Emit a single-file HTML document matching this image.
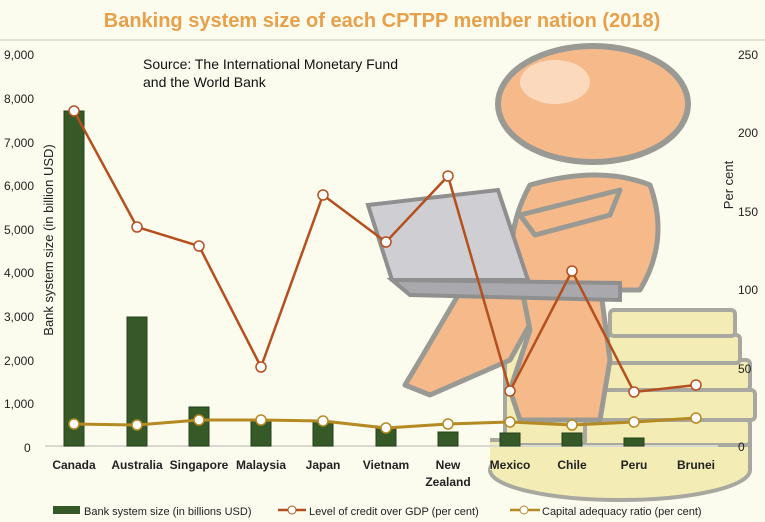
<!DOCTYPE html>
<html><head><meta charset="utf-8"><style>
html,body{margin:0;padding:0;background:#fbfbee;}
svg{display:block;font-family:"Liberation Sans",sans-serif;}
</style></head><body>
<svg width="765" height="522" viewBox="0 0 765 522">
<rect width="765" height="522" fill="#fbfbee"/>
<text x="382" y="27" text-anchor="middle" font-size="20" font-weight="bold" fill="#e8a04a">Banking system size of each CPTPP member nation (2018)</text>
<line x1="0" y1="40" x2="765" y2="40" stroke="#e2e2d6" stroke-width="2"/>

<!-- coins -->
<g stroke="#a8a8a0" stroke-width="4" fill="#f3ecb4">
<ellipse cx="620" cy="470" rx="130" ry="30"/>
<rect x="490" y="440" width="260" height="30" stroke="none"/>
<path d="M490 440 L750 440 L750 470" fill="none"/>
<rect x="580" y="420" width="170" height="25" rx="4"/>
<rect x="580" y="390" width="175" height="30" rx="4"/>
<rect x="580" y="360" width="170" height="30" rx="4"/>
<rect x="600" y="335" width="140" height="28" rx="4"/>
<rect x="610" y="310" width="125" height="26" rx="4"/>
<rect x="505" y="315" width="80" height="130" rx="4"/>
</g>
<!-- legs/body -->
<g fill="#f5b98a" stroke="#9a9a94" stroke-width="5" stroke-linejoin="round">
<path d="M470 275 L560 270 L510 360 L430 395 L405 385 L420 360 Z"/>
<path d="M520 280 L600 285 L610 360 L600 420 L520 420 L510 390 L530 330 Z"/>
<path d="M530 185 Q600 165 650 185 Q670 240 640 290 L520 290 Q500 240 530 185 Z"/>
<path d="M520 215 L620 190 L610 215 L535 235 Z"/>
</g>
<!-- laptop -->
<g stroke="#8f8f8f" stroke-width="4" fill="#cfcfd3">
<polygon points="368,205 498,190 528,280 392,280"/>
<polygon points="392,280 620,283 620,300 410,295" fill="#a9a9ad"/>
</g>
<!-- head -->
<ellipse cx="593" cy="104" rx="95" ry="58" fill="#f5b98a" stroke="#9a9a94" stroke-width="6"/>
<ellipse cx="555" cy="82" rx="35" ry="22" fill="#fbd9bd" stroke="none"/>

<!-- axes -->
<line x1="45" y1="446" x2="718" y2="446" stroke="#d9d9d0" stroke-width="2"/>
<g font-size="12" fill="#222">
<text x="4" y="59">9,000</text><text x="4" y="103">8,000</text><text x="4" y="147">7,000</text>
<text x="4" y="190">6,000</text><text x="4" y="234">5,000</text><text x="4" y="277">4,000</text>
<text x="4" y="321">3,000</text><text x="4" y="365">2,000</text><text x="4" y="408">1,000</text>
<text x="24" y="452">0</text>
<text x="738" y="59">250</text><text x="738" y="137">200</text><text x="738" y="216">150</text>
<text x="738" y="294">100</text><text x="738" y="373">50</text><text x="738" y="451">0</text>
</g>
<text transform="translate(53,240) rotate(-90)" text-anchor="middle" font-size="13" fill="#222">Bank system size (in billion USD)</text>
<text transform="translate(733,185) rotate(-90)" text-anchor="middle" font-size="13" fill="#222">Per cent</text>
<text x="143" y="69" font-size="14" fill="#111">Source: The International Monetary Fund</text>
<text x="143" y="87" font-size="14" fill="#111">and the World Bank</text>

<!-- bars -->
<g fill="#365a27" stroke="#24401a" stroke-width="1">
<rect x="64" y="111" width="20" height="335"/>
<rect x="127" y="317" width="20" height="129"/>
<rect x="189" y="407" width="20" height="39"/>
<rect x="251" y="421" width="20" height="25"/>
<rect x="313" y="421" width="20" height="25"/>
<rect x="376" y="428" width="20" height="18"/>
<rect x="438" y="432" width="20" height="14"/>
<rect x="500" y="433" width="20" height="13"/>
<rect x="562" y="433" width="20" height="13"/>
<rect x="624" y="438" width="20" height="8"/>
</g>
<polyline fill="none" stroke="#b58a22" stroke-width="3" points="74,424 137,425 199,420 261,420 323,421 386,428 448,424 510,422 572,425 634,422 696,418"/>
<g fill="#fff" stroke="#b58a22" stroke-width="1.5">
<circle cx="74" cy="424" r="5"/><circle cx="137" cy="425" r="5"/><circle cx="199" cy="420" r="5"/><circle cx="261" cy="420" r="5"/><circle cx="323" cy="421" r="5"/><circle cx="386" cy="428" r="5"/><circle cx="448" cy="424" r="5"/><circle cx="510" cy="422" r="5"/><circle cx="572" cy="425" r="5"/><circle cx="634" cy="422" r="5"/><circle cx="696" cy="418" r="5"/>
</g>
<polyline fill="none" stroke="#b5501e" stroke-width="2.5" points="74,111 137,227 199,246 261,367 323,195 386,242 448,176 510,391 572,271 634,392 696,385"/>
<g fill="#fff" stroke="#b5501e" stroke-width="1.5">
<circle cx="74" cy="111" r="5"/><circle cx="137" cy="227" r="5"/><circle cx="199" cy="246" r="5"/><circle cx="261" cy="367" r="5"/><circle cx="323" cy="195" r="5"/><circle cx="386" cy="242" r="5"/><circle cx="448" cy="176" r="5"/><circle cx="510" cy="391" r="5"/><circle cx="572" cy="271" r="5"/><circle cx="634" cy="392" r="5"/><circle cx="696" cy="385" r="5"/>
</g>
<g font-size="12" font-weight="bold" fill="#222" text-anchor="middle">
<text x="74" y="469">Canada</text><text x="137" y="469">Australia</text><text x="199" y="469">Singapore</text>
<text x="261" y="469">Malaysia</text><text x="323" y="469">Japan</text><text x="386" y="469">Vietnam</text>
<text x="448" y="469">New</text><text x="448" y="486">Zealand</text><text x="510" y="469">Mexico</text>
<text x="572" y="469">Chile</text><text x="634" y="469">Peru</text><text x="696" y="469">Brunei</text>
</g>
<rect x="53" y="506" width="27" height="8" fill="#365a27"/>
<text x="84" y="515" font-size="11" fill="#222">Bank system size (in billions USD)</text>
<line x1="278" y1="510" x2="306" y2="510" stroke="#b5501e" stroke-width="2.5"/>
<circle cx="292" cy="510" r="4" fill="#fff" stroke="#b5501e"/>
<text x="309" y="515" font-size="11" fill="#222">Level of credit over GDP (per cent)</text>
<line x1="510" y1="510" x2="540" y2="510" stroke="#b58a22" stroke-width="2.5"/>
<circle cx="524" cy="510" r="4" fill="#fff" stroke="#b58a22"/>
<text x="542" y="515" font-size="11" fill="#222">Capital adequacy ratio (per cent)</text>
</svg>
</body></html>
